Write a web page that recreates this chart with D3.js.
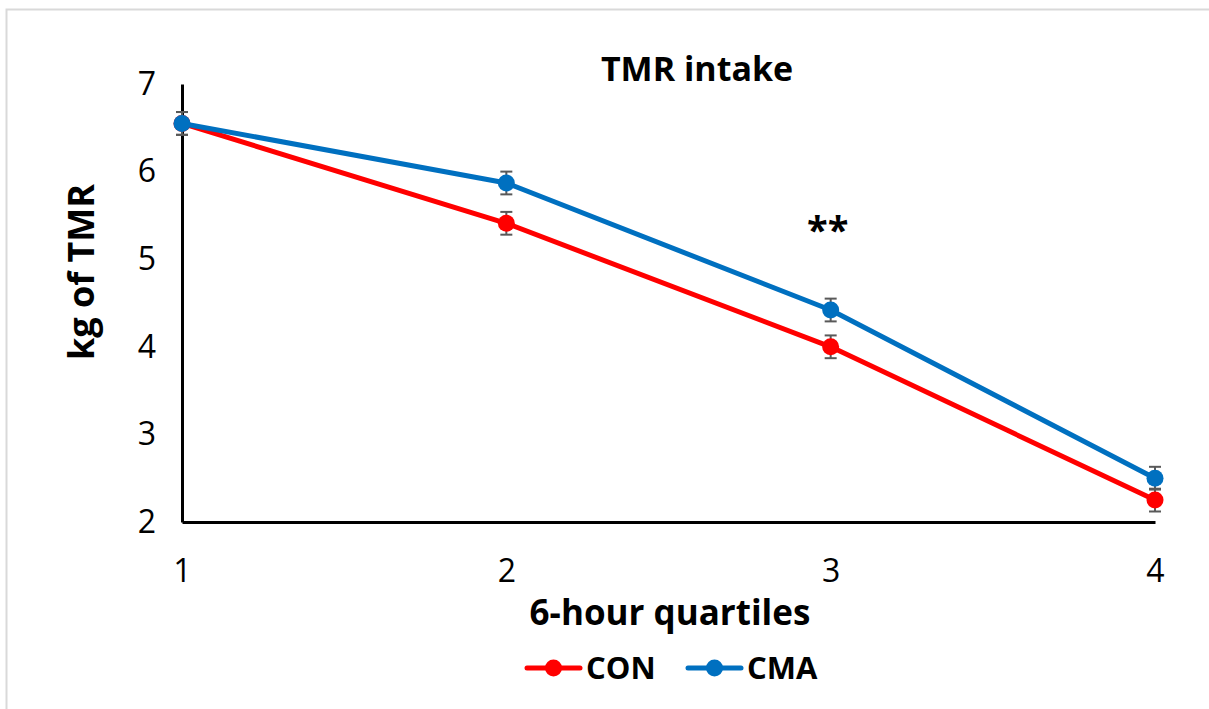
<!DOCTYPE html>
<html>
<head>
<meta charset="utf-8">
<script src="https://cdn.jsdelivr.net/npm/d3@7"></script>
<style>
    body { margin: 0; background: white; }
    text { font-family: "Open Sans", "Noto Sans", sans-serif; }
</style>
</head>
<body>
<div id="chart"></div>
<script>
// Chart data
//
var quartiles  = [1, 2, 3, 4];
var conValues  = [6.55, 5.41, 4.00, 2.25];
var conErrors  = [0.13, 0.13, 0.13, 0.13];
var cmaValues  = [6.55, 5.87, 4.42, 2.50];
var cmaErrors  = [0.13, 0.13, 0.13, 0.13];
var yTicks     = [2, 3, 4, 5, 6, 7];
var seriesNames = ['CON', 'CMA'];
var seriesColors = ['#ff0000', '#0070c0'];

// Set globals
//
var svg_width  = 1209;
var svg_height = 709;

var x_box_min = 182;
var x_box_max = 1155;
var y_box_min = 84;
var y_box_max = 522;

var svg = d3.select("#chart").append("svg")
    .attr("width", svg_width)
    .attr("height", svg_height);

// Outer border
//
svg.append("rect")
    .attr("x", 6.5)
    .attr("y", 9.5)
    .attr("width", svg_width + 10)
    .attr("height", svg_height + 10)
    .attr("fill", "white")
    .attr("stroke", "#d9d9d9")
    .attr("stroke-width", 2);

// Scales
//
var x = d3.scaleLinear().domain([1, 4]).range([x_box_min, x_box_max]);
var y = d3.scaleLinear().domain([2, 7]).range([y_box_max, y_box_min]);

// Left y axis
//
var yAxis = svg.append("g")
    .attr("transform", `translate(${x_box_min},0)`)
    .call(d3.axisLeft(y).tickValues(yTicks).tickSize(0).tickPadding(26).tickFormat(d3.format("d")));
yAxis.select(".domain").attr("stroke", "black").attr("stroke-width", 3);
yAxis.selectAll("text")
    .style("font-size", "32px")
    .style("font-family", "Open Sans, sans-serif")
    .attr("fill", "black");

// Bottom x axis
//
var xAxis = svg.append("g")
    .attr("transform", `translate(0,${y_box_max})`)
    .call(d3.axisBottom(x).tickValues(quartiles).tickSize(0).tickPadding(37).tickFormat(d3.format("d")));
xAxis.select(".domain").attr("stroke", "black").attr("stroke-width", 3);
xAxis.selectAll("text")
    .style("font-size", "32px")
    .style("font-family", "Open Sans, sans-serif")
    .attr("fill", "black");

// Titles
//
svg.append("text")
    .attr("x", 697)
    .attr("y", 81)
    .attr("text-anchor", "middle")
    .style("font-size", "34px")
    .style("font-weight", "700")
    .text("TMR intake");

svg.append("text")
    .attr("x", 670)
    .attr("y", 625)
    .attr("text-anchor", "middle")
    .style("font-size", "35px")
    .style("font-weight", "700")
    .text("6-hour quartiles");

svg.append("text")
    .attr("transform", "translate(94,272) rotate(-90)")
    .attr("text-anchor", "middle")
    .style("font-size", "36px")
    .style("font-weight", "700")
    .text("kg of TMR");

// Significance mark
//
svg.append("text")
    .attr("x", x(3) - 3)
    .attr("y", y(5.17))
    .attr("text-anchor", "middle")
    .style("font-size", "38px")
    .style("font-weight", "700")
    .text("**");

// Series
//
var series = [
    { name: seriesNames[0], color: seriesColors[0], values: conValues, errors: conErrors },
    { name: seriesNames[1], color: seriesColors[1], values: cmaValues, errors: cmaErrors }
];

var line = d3.line()
    .x((d, i) => x(quartiles[i]))
    .y(d => y(d));

series.forEach(function(s) {
    let g = svg.append("g").attr("class", "series");

    g.append("path")
        .datum(s.values)
        .attr("d", line)
        .attr("fill", "none")
        .attr("stroke", s.color)
        .attr("stroke-width", 5)
        .attr("stroke-linejoin", "round");

    // Error bars
    //
    let rows = s.values.map((v, i) => ({ q: quartiles[i], v: v, e: s.errors[i] }));
    let eb = g.selectAll(".err").data(rows).enter().append("g").attr("class", "err")
        .attr("stroke", "#595959")
        .attr("stroke-width", 2);
    eb.append("line")
        .attr("x1", d => x(d.q)).attr("x2", d => x(d.q))
        .attr("y1", d => y(d.v + d.e)).attr("y2", d => y(d.v - d.e));
    eb.append("line")
        .attr("x1", d => x(d.q) - 6).attr("x2", d => x(d.q) + 6)
        .attr("y1", d => y(d.v + d.e)).attr("y2", d => y(d.v + d.e));
    eb.append("line")
        .attr("x1", d => x(d.q) - 6).attr("x2", d => x(d.q) + 6)
        .attr("y1", d => y(d.v - d.e)).attr("y2", d => y(d.v - d.e));

    g.selectAll("circle").data(rows).enter().append("circle")
        .attr("cx", d => x(d.q))
        .attr("cy", d => y(d.v))
        .attr("r", 8.5)
        .attr("fill", s.color);
});

// Legend
//
var legendX = [527, 688];
series.forEach(function(s, i) {
    let lg = svg.append("g").attr("transform", `translate(${legendX[i]},668)`);
    lg.append("line")
        .attr("x1", 0).attr("x2", 53)
        .attr("y1", 0).attr("y2", 0)
        .attr("stroke", s.color)
        .attr("stroke-width", 5)
        .attr("stroke-linecap", "round");
    lg.append("circle")
        .attr("cx", 26.5).attr("cy", 0).attr("r", 8.5)
        .attr("fill", s.color);
    lg.append("text")
        .attr("x", 59)
        .attr("y", 11)
        .style("font-size", "31px")
        .style("font-weight", "700")
        .text(s.name);
});
</script>
</body>
</html>
